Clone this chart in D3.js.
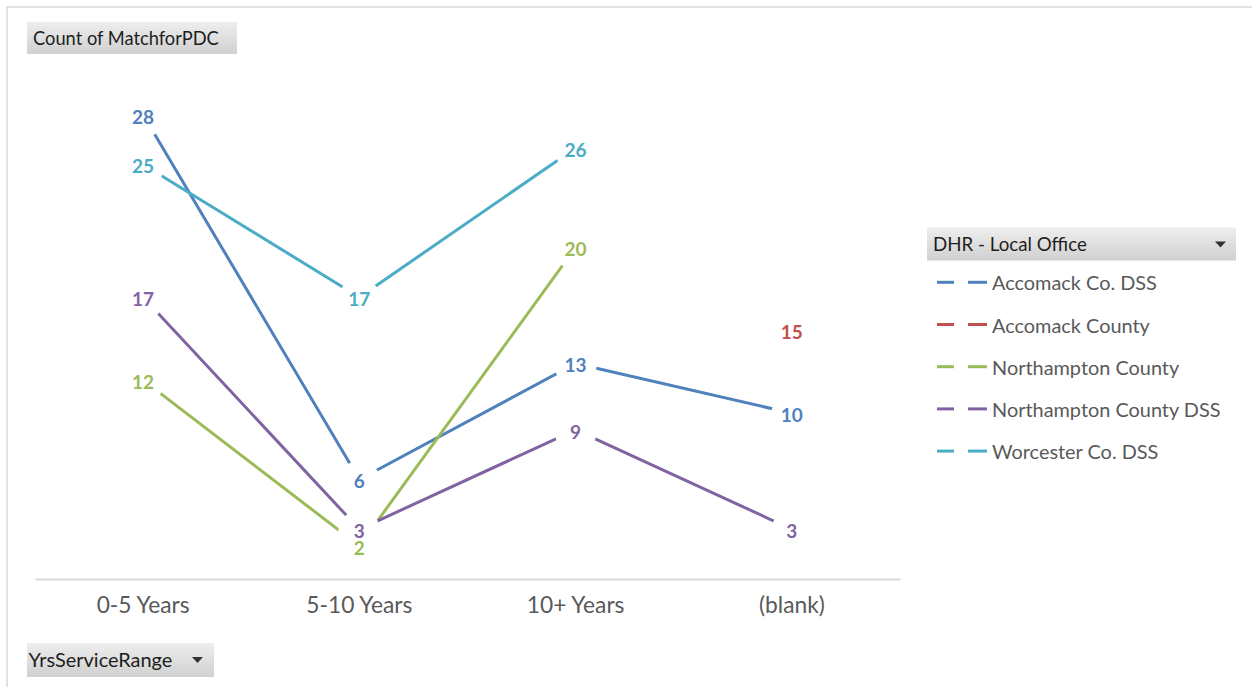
<!DOCTYPE html>
<html>
<head>
<meta charset="utf-8">
<script src="https://cdn.jsdelivr.net/npm/d3@7"></script>
<style>
  html, body { margin: 0; padding: 0; background: #fff; }
  svg { display: block; font-family: Lato, "Open Sans", sans-serif; }
</style>
</head>
<body>
<svg id="chart" width="1252" height="687"></svg>
<script>
// ---- data ----
const categories = ["0-5 Years", "5-10 Years", "10+ Years", "(blank)"];
const seriesNames = ["Accomack Co. DSS", "Accomack County", "Northampton County", "Northampton County DSS", "Worcester Co. DSS"];
const accomackCoDSS        = [28, 6, 13, 10];
const accomackCounty       = [null, null, null, 15];
const northamptonCounty    = [12, 2, 20, null];
const northamptonCountyDSS = [17, 3, 9, 3];
const worcesterCoDSS       = [25, 17, 26, null];
const seriesColors = ["#4F81BD", "#C0504D", "#9BBB59", "#8064A2", "#4BACC6"];
const valueTitle = "Count of MatchforPDC";
const legendTitle = "DHR - Local Office";
const categoryTitle = "YrsServiceRange";

const seriesValues = [accomackCoDSS, accomackCounty, northamptonCounty, northamptonCountyDSS, worcesterCoDSS];
const series = seriesNames.map((name, i) => ({
  name, color: seriesColors[i],
  points: categories.map((c, j) => ({ c, v: seriesValues[i][j] }))
}));

const svg = d3.select("#chart");
const W = 1252, H = 687;

// fit helper: scale font size so text reaches target width
function fit(sel, target) {
  const fs = parseFloat(sel.attr("font-size"));
  const w = sel.node().getComputedTextLength();
  if (w > 0) sel.attr("font-size", (fs * target / w).toFixed(2));
  return sel;
}

// gradient for field buttons
const defs = svg.append("defs");
const grad = defs.append("linearGradient").attr("id", "btnGrad").attr("x1", 0).attr("y1", 0).attr("x2", 0).attr("y2", 1);
grad.append("stop").attr("offset", "0%").attr("stop-color", "#EEEEEE");
grad.append("stop").attr("offset", "100%").attr("stop-color", "#D0D0D0");

svg.append("rect").attr("width", W).attr("height", H).attr("fill", "#fff");
// chart area border (extends past the right/bottom edges)
svg.append("rect").attr("x", 7).attr("y", 7).attr("width", W + 20).attr("height", H + 20)
  .attr("fill", "none").attr("stroke", "#D9D9D9").attr("stroke-width", 1.5);

// ---- scales ----
const x = d3.scaleBand().domain(categories).range([35, 900]).padding(0);
const y = d3.scaleLinear().domain([0, 30]).range([579, 579 - 30 * 16.577]);
const cx = c => x(c) + x.bandwidth() / 2;
const labelDy = 2;

// ---- category axis ----
const axisG = svg.append("g").attr("transform", `translate(0,${y(0)})`)
  .call(d3.axisBottom(x).tickSize(0).tickSizeOuter(0));
axisG.select(".domain").attr("stroke", "#D9D9D9").attr("stroke-width", 2);
axisG.selectAll(".tick text")
  .attr("y", 34).attr("dy", null)
  .attr("fill", "#595959").attr("font-size", 20)
  .attr("font-family", "Lato, sans-serif");
fit(axisG.select(".tick text"), 93);
const catFs = axisG.select(".tick text").attr("font-size");
axisG.selectAll(".tick text").attr("font-size", catFs);

// ---- label gaps (mask) ----
const allLabels = [];
series.forEach(s => s.points.forEach(p => {
  if (p.v != null) allLabels.push({ x: cx(p.c), y: y(p.v) + labelDy, v: p.v, color: s.color });
}));
const mask = defs.append("mask").attr("id", "labelGap").attr("maskUnits", "userSpaceOnUse")
  .attr("x", 0).attr("y", 0).attr("width", W).attr("height", H);
mask.append("rect").attr("width", W).attr("height", H).attr("fill", "#fff");
mask.selectAll("circle").data(allLabels).join("circle")
  .attr("cx", d => d.x).attr("cy", d => d.y).attr("r", 21).attr("fill", "#000");

// ---- lines ----
const line = d3.line().defined(d => d.v != null).x(d => cx(d.c)).y(d => y(d.v));
svg.append("g").attr("mask", "url(#labelGap)")
  .selectAll("path").data(series).join("path")
  .attr("d", d => line(d.points))
  .attr("fill", "none").attr("stroke", d => d.color).attr("stroke-width", 3)
  .attr("stroke-linejoin", "round");

// ---- data labels ----
const labFs = 19;
svg.append("g").selectAll("text").data(allLabels).join("text")
  .attr("x", d => d.x).attr("y", d => d.y + labFs * 0.36)
  .attr("text-anchor", "middle").attr("font-size", labFs).attr("font-weight", "bold")
  .attr("fill", d => d.color).text(d => d.v);

// ---- field buttons ----
function button(x0, y0, w, h, label, tx, baseline, targetW, arrow) {
  const g = svg.append("g");
  g.append("rect").attr("x", x0).attr("y", y0).attr("width", w).attr("height", h).attr("fill", "url(#btnGrad)");
  const t = g.append("text").attr("x", tx).attr("y", baseline).attr("font-size", 19)
    .attr("fill", "#1E1E1E").text(label);
  fit(t, targetW);
  if (arrow) {
    g.append("path").attr("d", `M${arrow[0] - 5.5},${arrow[1] - 3}L${arrow[0] + 5.5},${arrow[1] - 3}L${arrow[0]},${arrow[1] + 3}Z`)
      .attr("fill", "#333");
  }
}
button(27, 22, 210, 32, valueTitle, 33, 45, 186, null);
button(27, 643, 187, 34, categoryTitle, 28.5, 667, 144, [197.5, 660]);
button(927, 227.5, 309, 33, legendTitle, 933, 251, 154, [1220.5, 244.5]);

// ---- legend ----
const leg = svg.append("g").selectAll("g").data(series).join("g")
  .attr("transform", (d, i) => `translate(0,${282.3 + i * 42.2})`);
leg.append("line").attr("x1", 937).attr("x2", 954).attr("y1", 0).attr("y2", 0)
  .attr("stroke", d => d.color).attr("stroke-width", 3);
leg.append("line").attr("x1", 968).attr("x2", 987).attr("y1", 0).attr("y2", 0)
  .attr("stroke", d => d.color).attr("stroke-width", 3);
const legText = leg.append("text").attr("x", 992).attr("y", 8).attr("font-size", 19.5)
  .attr("fill", "#595959").text(d => d.name);
fit(d3.select(legText.nodes()[0]), 165);
legText.attr("font-size", d3.select(legText.nodes()[0]).attr("font-size"));
</script>
</body>
</html>
